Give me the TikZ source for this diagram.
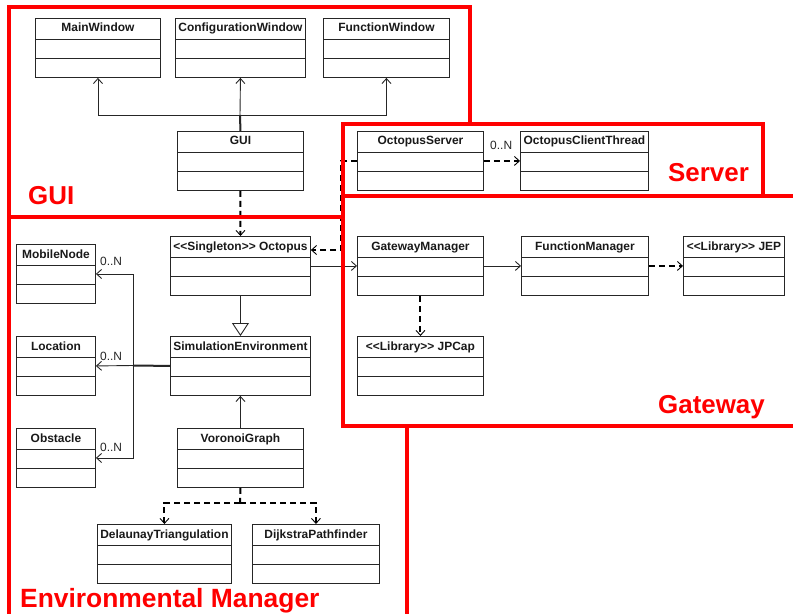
\documentclass[tikz,border=0pt]{standalone}
\usepackage{fontspec}
\setmainfont{Liberation Sans}
\usetikzlibrary{arrows.meta,calc}
\definecolor{regred}{RGB}{255,0,0}
\tikzset{
  clsbox/.style={draw=black!85, line width=0.9bp, minimum height=59bp, inner sep=0pt, fill=white},
  clsline/.style={draw=black!85, line width=0.9bp},
  clstitle/.style={font=\bfseries\fontsize{12}{14}\selectfont, inner sep=0pt, text=black!90},
  mult/.style={font=\fontsize{12}{14}\selectfont, inner sep=0pt, anchor=base west, text=black!85},
  vtip/.style={-{Straight Barb[length=5bp,width=9bp,line width=0.9bp]}},
  assoc/.style={draw=black!85, line width=0.9bp, vtip},
  depend/.style={draw=black, line width=2bp, dash pattern=on 6bp off 4bp, vtip},
  inherit/.style={draw=black!85, line width=0.9bp, -{Triangle[open,length=13bp,width=17bp,line width=0.9bp,fill=white]}},
  region/.style={draw=regred, line width=3.5bp},
  regionlabel/.style={font=\bfseries\fontsize{26}{30}\selectfont, text=regred, inner sep=0pt, anchor=base west}
}
\newcommand{\umlcls}[5]{% name, left x, top y, width, title
  \node[clsbox, minimum width=#4 bp, anchor=north west] (#1) at (#2,#3) {};
  \draw[clsline] ([yshift=-21bp]#1.north west) -- ([yshift=-21bp]#1.north east)
                 ([yshift=-40bp]#1.north west) -- ([yshift=-40bp]#1.north east);
  \node[clstitle, anchor=base] (#1-t) at ([yshift=-14bp]#1.north) {#5};
}
\begin{document}
\begin{tikzpicture}[x=1bp,y=-1bp]
\useasboundingbox (0,0) rectangle (793,614);
\fill[white] (0,0) rectangle (793,614);

% GUI package
\umlcls{mw}{35}{18}{125}{MainWindow}
\umlcls{cw}{175}{18}{130}{ConfigurationWindow}
\umlcls{fw}{323}{18}{126}{FunctionWindow}
\umlcls{gui}{177}{131}{126}{GUI}

% Server package
\umlcls{os}{357}{131}{126}{OctopusServer}
\umlcls{oct}{520}{131}{128}{OctopusClientThread}

% Gateway package
\umlcls{gm}{357}{236}{126}{GatewayManager}
\umlcls{fm}{521}{236}{127}{FunctionManager}
\umlcls{jep}{683}{236}{101}{<{}<Library>{}> JEP}
\umlcls{jpc}{357}{336}{126}{<{}<Library>{}> JPCap}

% Environmental manager package
\umlcls{oc}{170}{236}{140}{<{}<Singleton>{}> Octopus}
\umlcls{sim}{170}{336}{140}{SimulationEnvironment}
\umlcls{mn}{16}{244}{79}{MobileNode}
\umlcls{loc}{16}{336}{79}{Location}
\umlcls{obs}{16}{428}{79}{Obstacle}
\umlcls{vg}{177}{428}{126}{VoronoiGraph}
\umlcls{dt}{97}{524}{134}{DelaunayTriangulation}
\umlcls{dp}{252}{524}{127}{DijkstraPathfinder}

% GUI connectors
\coordinate (guij) at (240,115);
\draw[clsline, line width=2bp] (gui.north) -- (guij);
\draw[assoc] (guij) -| (mw.south);
\draw[assoc] (guij) -| (fw.south);
\draw[assoc] (guij) -- (cw.south);
\draw[depend] (gui.south) -- (oc.north);

% Server connectors
\draw[depend] (os.west) -- ++(-16,0) |- ([yshift=-14bp]oc.north east);
\draw[depend] (os.east) -- (oct.west);
\node[mult] (m0) at (490,150) {0..N};

% Gateway connectors
\draw[assoc] (oc.east) -- (gm.west);
\draw[assoc] (gm.east) -- (fm.west);
\draw[depend] (fm.east) -- (jep.west);
\draw[depend] (gm.south) -- (jpc.north);

% Environment connectors
\draw[inherit] (oc.south) -- (sim.north);
\draw[assoc] (vg.north) -- (sim.south);
\coordinate (agg) at (133,365.5);
\draw[clsline, line width=2bp] (sim.west) -- (agg);
\draw[assoc] (agg) |- (mn.east);
\draw[assoc] (agg) -- (loc.east);
\draw[assoc] (agg) |- (obs.east);
\node[mult] (m1) at (100,265) {0..N};
\node[mult] (m2) at (100,360) {0..N};
\node[mult] (m3) at (100,451) {0..N};
\coordinate (vgj) at (240,503);
\draw[depend, -] (vg.south) -- (vgj);
\draw[depend] (vgj) -| (dt.north);
\draw[depend] (vgj) -| (dp.north);

% Package regions
\draw[region] (9,217) -- (9,7) -- (470,7) -- (470,124);
\draw[region] (9,614) -- (9,217) -- (343,217);
\draw[region] (407,426) -- (407,614);
\draw[region] (343,124) rectangle (763,196);
\draw[region] (793,196) -- (343,196) -- (343,426) -- (793,426);

\node[regionlabel] (lgui) at (28,205) {GUI};
\node[regionlabel] (lsrv) at (668,182) {Server};
\node[regionlabel] (lgw) at (658,413) {Gateway};
\node[regionlabel, font=\bfseries\fontsize{26.5}{30}\selectfont] (lenv) at (20,607) {Environmental Manager};
\end{tikzpicture}
\end{document}
